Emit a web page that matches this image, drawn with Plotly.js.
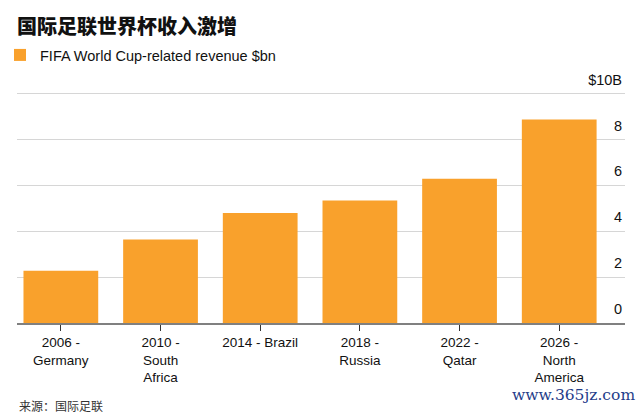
<!DOCTYPE html>
<html>
<head>
<meta charset="utf-8">
<script src="https://cdn.plot.ly/plotly-3.0.1.min.js"></script>
<style>
  html, body { margin: 0; padding: 0; background: #fff; }
  #chart { width: 642px; height: 413px; }
</style>
</head>
<body>
<div id="chart"></div>
<script>
// ---- data ----
const categories = [
  "2006 -<br>Germany",
  "2010 -<br>South<br>Africa",
  "2014 - Brazil",
  "2018 -<br>Russia",
  "2022 -<br>Qatar",
  "2026 -<br>North<br>America"
];
const revenue = [2.28, 3.65, 4.8, 5.35, 6.3, 8.88];
const yTickVals = [0, 2, 4, 6, 8, 10];
const yTickText = ["0", "2", "4", "6", "8", "$10B"];
const seriesName = "FIFA World Cup-related revenue $bn";
const titleText = "国际足联世界杯收入激增";
const sourceText = "来源：国际足联";
const watermarkText = "www.365jz.com";

const W = 642, H = 413;
const baseFont = "Liberation Sans, Arial, Helvetica, sans-serif";
const cjkFont = "Noto Sans CJK SC, sans-serif";

const trace = {
  type: "bar",
  x: categories,
  y: revenue,
  name: seriesName,
  marker: { color: "#F9A12C" },
  showlegend: true,
  hoverinfo: "skip"
};

const layout = {
  width: W,
  height: H,
  margin: { l: 17, r: 17, t: 68, b: 90, pad: 0 },
  paper_bgcolor: "#ffffff",
  plot_bgcolor: "#ffffff",
  bargap: 0.25,
  font: { family: baseFont, size: 13, color: "#222" },
  title: {
    text: titleText,
    font: { family: cjkFont, size: 20, color: "#111", weight: 900 },
    xref: "container", yref: "container",
    x: 17 / W, xanchor: "left",
    y: 1 - 27 / H, yanchor: "middle"
  },
  showlegend: true,
  legend: {
    orientation: "h",
    xref: "container", yref: "container",
    x: 0, xanchor: "left",
    y: 1 - 55 / H, yanchor: "middle",
    font: { family: baseFont, size: 14.5, color: "#111" },
    bgcolor: "rgba(0,0,0,0)",
    itemwidth: 30
  },
  xaxis: {
    type: "category",
    range: [-0.44, 5.66],
    showgrid: false,
    zeroline: false,
    showline: true,
    linecolor: "#808080",
    linewidth: 2,
    ticks: "outside",
    ticklen: 6,
    tickwidth: 1,
    tickcolor: "#333",
    tickfont: { family: baseFont, size: 13.5, color: "#111" },
    fixedrange: true
  },
  yaxis: {
    range: [0, 11],
    side: "right",
    showline: false,
    zeroline: false,
    showgrid: true,
    gridcolor: "#d6d6d6",
    gridwidth: 1,
    tickvals: yTickVals,
    ticktext: yTickText,
    ticks: "",
    ticklabelposition: "inside top",
    ticklabelshift: -4,
    tickfont: { family: baseFont, size: 14.5, color: "#111" },
    fixedrange: true
  },
  annotations: [
    {
      text: sourceText,
      xref: "paper", yref: "paper",
      x: 0, xanchor: "left",
      y: -(406 - 323) / (323 - 68), yanchor: "middle",
      showarrow: false,
      font: { family: cjkFont, size: 12, color: "#333" }
    },
    {
      text: watermarkText,
      xref: "paper", yref: "paper",
      x: (637 - 17) / (625 - 17), xanchor: "right",
      y: -(396 - 323) / (323 - 68), yanchor: "middle",
      showarrow: false,
      font: { family: "DejaVu Serif, serif", size: 15.5, color: "#1f3d8a" }
    }
  ]
};

Plotly.newPlot("chart", [trace], layout, { staticPlot: true, displayModeBar: false });
</script>
</body>
</html>
